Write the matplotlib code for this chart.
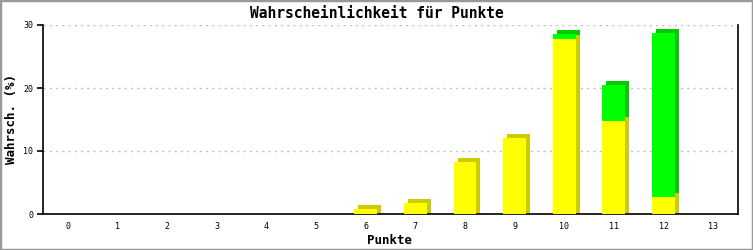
import numpy as np
import matplotlib
matplotlib.use("Agg")
import matplotlib.pyplot as plt
import matplotlib.transforms as mtransforms
from matplotlib.patches import Rectangle

# Data
punkte = np.arange(0, 14)
gelb = [0, 0, 0, 0, 0, 0, 0.8, 1.8, 8.2, 12.0, 27.7, 14.7, 2.7, 0]
gruen = [0, 0, 0, 0, 0, 0, 0, 0, 0, 0, 0.8, 5.7, 26.1, 0]
yticks = [0, 10, 20, 30]

font = "DejaVu Sans Mono"
fig = plt.figure(figsize=(7.53, 2.5), dpi=100)
ax = fig.add_axes([43 / 753, 36 / 250, 695 / 753, 189 / 250])

width = 0.46
gelb = np.array(gelb)
gruen = np.array(gruen)
# 3D depth: darker copy shifted right/up
shift = mtransforms.offset_copy(ax.transData, fig=fig, x=4, y=4, units="dots")
for i, x in enumerate(punkte):
    if gelb[i] > 0:
        ax.bar(x, gelb[i] + 1, bottom=-1, width=width, color="#cccc00",
               transform=shift, zorder=2, linewidth=0)
    if gruen[i] > 0:
        ax.bar(x, gruen[i], bottom=gelb[i], width=width, color="#00cc00",
               transform=shift, zorder=2, linewidth=0)
ax.bar(punkte, gelb, width=width, color="#ffff00", zorder=3, linewidth=0)
ax.bar(punkte, gruen, bottom=gelb, width=width, color="#00ff00", zorder=3, linewidth=0)

ax.set_xlim(-0.5, 13.5)
ax.set_ylim(0, 30)
ax.set_xticks(punkte)
ax.set_xticklabels([str(p) for p in punkte], fontsize=6, family=font)
ax.set_yticks(yticks)
ax.set_yticklabels([str(t) for t in yticks], fontsize=6, family=font)
ax.tick_params(axis="x", length=0, pad=6)
ax.tick_params(axis="y", length=4, width=1.2, pad=3)
for t in yticks[1:]:
    ax.axhline(t, color="#c0c0c0", linestyle=(0, (1.5, 3)), linewidth=1, zorder=1)

ax.spines["top"].set_visible(False)
for s in ["left", "bottom", "right"]:
    ax.spines[s].set_linewidth(1.2)

fig.text(389 / 753, 10 / 250, "Punkte", ha="center", va="center",
         fontsize=9, fontweight="bold", family=font)
fig.text(12 / 753, 131 / 250, "Wahrsch. (%)", ha="center", va="center",
         rotation=90, fontsize=9, fontweight="bold", family=font)
fig.text(0.5, 0.945, "Wahrscheinlichkeit für Punkte", ha="center", va="center",
         fontsize=10.5, fontweight="bold", family=font)

fig.patches.append(Rectangle((0, 0), 1, 1, transform=fig.transFigure, fill=False,
                             edgecolor="#999999", linewidth=2.5))

fig.savefig("out.png", dpi=100)
